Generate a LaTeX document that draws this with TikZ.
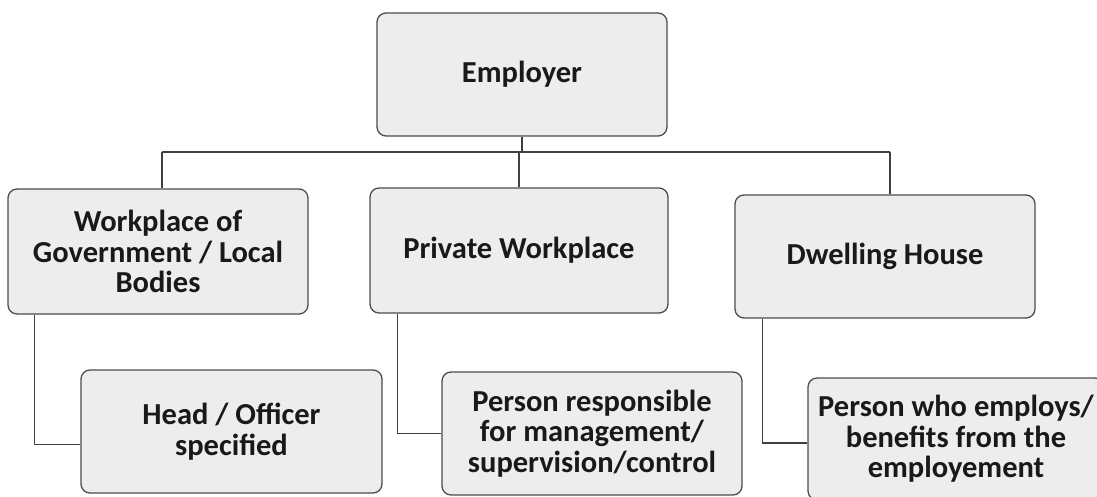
\documentclass[tikz,border=0pt]{standalone}
\usepackage{fontspec}
\setmainfont{Carlito}
\begin{document}
\begin{tikzpicture}[x=1pt,y=-1pt,
  box/.style={draw=black!70, line width=1.3pt, fill=black!7, rounded corners=9pt,
    align=center, inner sep=2pt, text=black!90,
    font=\fontsize{30.5}{30.5}\selectfont\bfseries},
  conn/.style={draw=black!75, line width=1.1pt}]
\clip (0,0) rectangle (1097,497);
\fill[white] (0,0) rectangle (1097,497);
\node[box, minimum width=290pt, minimum height=123pt] (emp) at (522,74.5) {Employer};
\node[box, minimum width=300pt, minimum height=125pt] (wp) at (158,251.5) {Workplace of\\Government / Local\\Bodies};
\node[box, minimum width=298pt, minimum height=125pt] (pw) at (519,250.5) {Private Workplace};
\node[box, minimum width=300pt, minimum height=123pt] (dh) at (885,256.5) {Dwelling House};
\node[box, minimum width=301pt, minimum height=123pt] (head) at (231.5,431.5) {Head / Officer\\specified};
\node[box, minimum width=300pt, minimum height=123pt] (pr) at (592,433.5) {Person responsible\\for management/\\supervision/control};
\node[box, minimum width=296pt, minimum height=122pt] (pe) at (956,439) {Person who employs/\\benefits from the\\employement};
\coordinate (busL) at (162,152);
\coordinate (busR) at (890,152);
\draw[conn] (busL) -- (busR);
\draw[conn] (emp.south) -- (emp.south |- busL);
\draw[conn] (busL) -- (busL |- wp.north);
\draw[conn] (pw.north |- busL) -- (pw.north);
\draw[conn] (busR) -- (busR |- dh.north);
\draw[conn] ([xshift=27pt]wp.south west) |- ([yshift=-13pt]head.west);
\draw[conn] ([xshift=28pt]pw.south west) |- (pr.west);
\draw[conn] ([xshift=28pt]dh.south west) |- ([yshift=-4pt]pe.west);
\end{tikzpicture}
\end{document}
